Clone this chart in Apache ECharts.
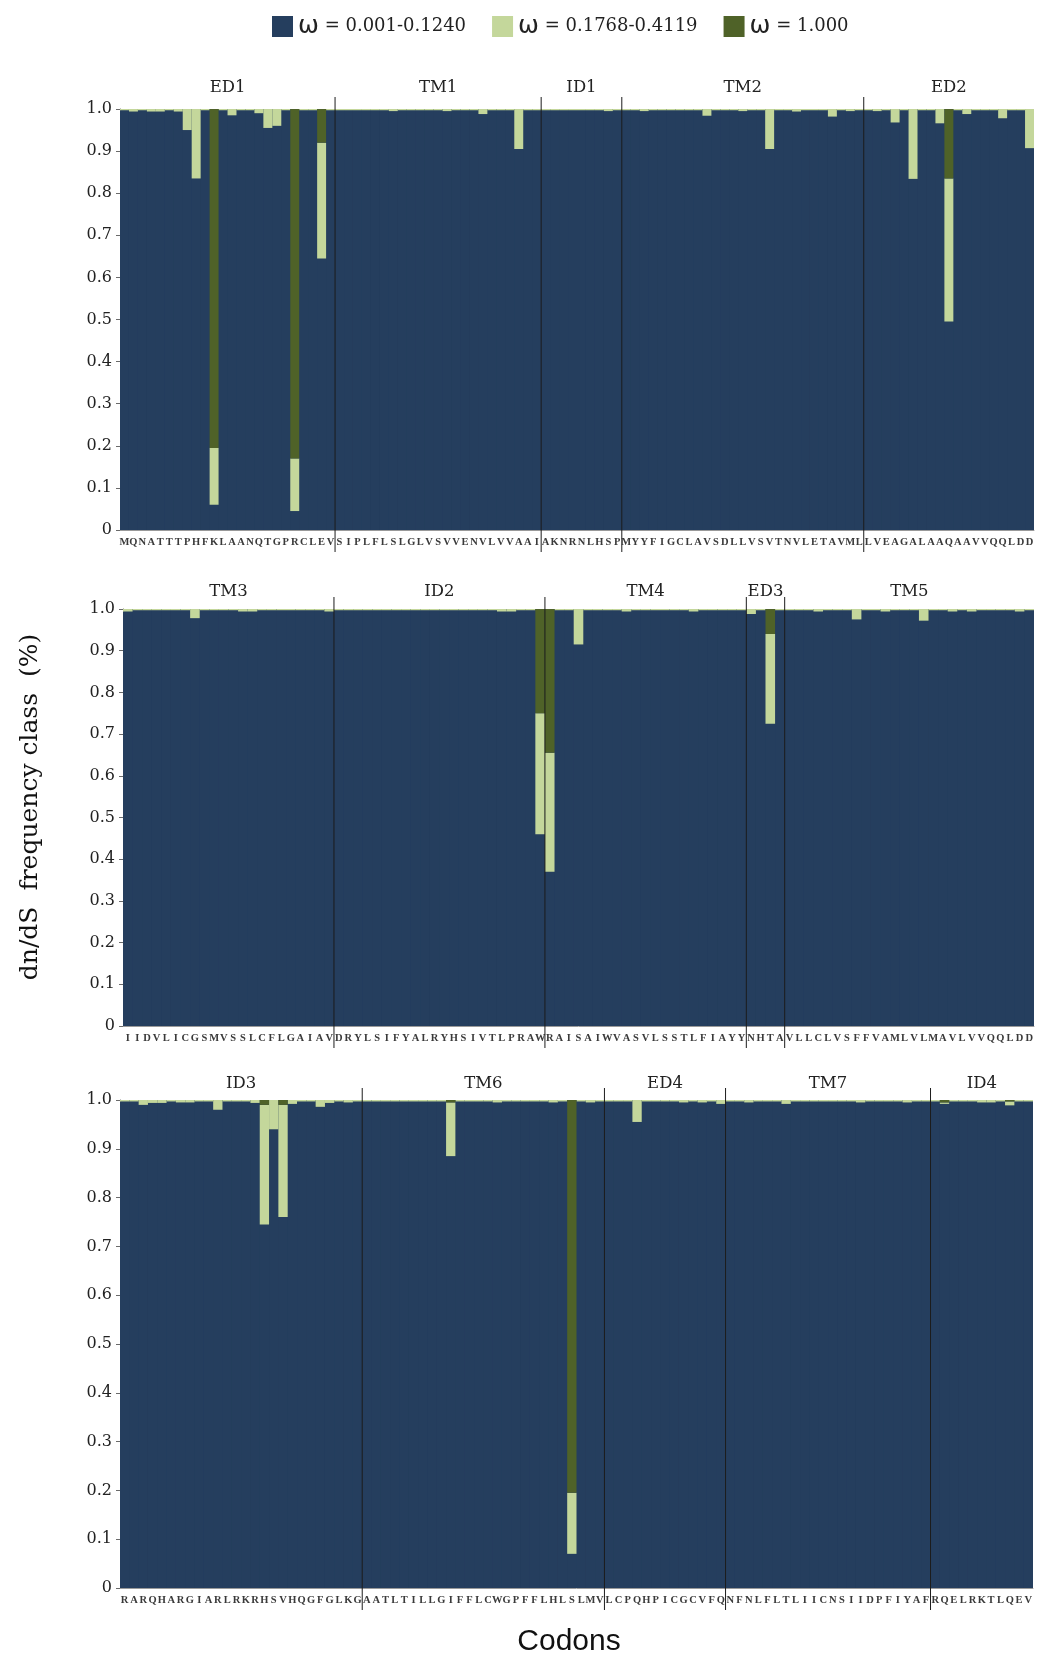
<!DOCTYPE html>
<html>
<head>
<meta charset="utf-8">
<script src="https://cdn.jsdelivr.net/npm/echarts@6/dist/echarts.min.js"></script>
<style>
  html, body { margin: 0; padding: 0; background: #fff; }
  #chart { width: 1039px; height: 1657px; }
</style>
</head>
<body>
<div id="chart"></div>
<script>
// dn/dS classes (stacked bottom -> top)
const classNames = ['ω = 0.001-0.1240', 'ω = 0.1768-0.4119', 'ω = 1.000']
const classColors = ['#253e5e', '#c4d79b', '#4f6228']

// ---- panel 1 ----
const seq1 = 'MQNATTTPHFKLAANQTGPRCLEV' + 'SIPLFLSLGLVSVVENVLVVAAI' + 'AKNRNLHSP' +
  'MYYFIGCLAVSDLLVSVTNVLETAVML' + 'LVEAGALAAQAAVVQQLDD'
const domains1 = ['ED1', 'TM1', 'ID1', 'TM2', 'ED2']
const domainLen1 = [24, 23, 9, 27, 19]
const low1 = [
  .997, .994, .997, .994, .994, .997, .994, .95, .835, .997,
  .06, .997, .985, .997, .997, .99, .955, .96, .997, .045,
  .997, .997, .645, .997, .997, .997, .997, .997, .997, .997,
  .995, .997, .997, .997, .997, .997, .995, .997, .997, .997,
  .988, .997, .997, .997, .905, .997, .997, .997, .997, .997,
  .997, .997, .997, .997, .995, .997, .997, .997, .995, .997,
  .997, .997, .997, .997, .997, .984, .997, .997, .997, .995,
  .997, .997, .905, .997, .997, .994, .997, .997, .997, .982,
  .997, .995, .997, .997, .995, .997, .968, .997, .834, .997,
  .997, .966, .495, .997, .988, .997, .997, .997, .978, .997,
  .997, .907]
const mid1 = [
  .003, .006, .003, .006, .006, .003, .006, .05, .165, .003,
  .135, .003, .015, .003, .003, .01, .045, .04, .003, .125,
  .003, .003, .275, .003, .003, .003, .003, .003, .003, .003,
  .005, .003, .003, .003, .003, .003, .005, .003, .003, .003,
  .012, .003, .003, .003, .095, .003, .003, .003, .003, .003,
  .003, .003, .003, .003, .005, .003, .003, .003, .005, .003,
  .003, .003, .003, .003, .003, .016, .003, .003, .003, .005,
  .003, .003, .095, .003, .003, .006, .003, .003, .003, .018,
  .003, .005, .003, .003, .005, .003, .032, .003, .166, .003,
  .003, .034, .34, .003, .012, .003, .003, .003, .022, .003,
  .003, .093]
const high1 = [
  0, 0, 0, 0, 0, 0, 0, 0, 0, 0,
  .805, 0, 0, 0, 0, 0, 0, 0, 0, .83,
  0, 0, .08, 0, 0, 0, 0, 0, 0, 0,
  0, 0, 0, 0, 0, 0, 0, 0, 0, 0,
  0, 0, 0, 0, 0, 0, 0, 0, 0, 0,
  0, 0, 0, 0, 0, 0, 0, 0, 0, 0,
  0, 0, 0, 0, 0, 0, 0, 0, 0, 0,
  0, 0, 0, 0, 0, 0, 0, 0, 0, 0,
  0, 0, 0, 0, 0, 0, 0, 0, 0, 0,
  0, 0, .165, 0, 0, 0, 0, 0, 0, 0,
  0, 0]

// ---- panel 2 ----
const seq2 = 'IIDVLICGSMVSSLCFLGAIAV' + 'DRYLSIFYALRYHSIVTLPRAW' + 'RAISAIWVASVLSSTLFIAYY' +
  'NHTA' + 'VLLCLVSFFVAMLVLMAVLVVQQLDD'
const domains2 = ['TM3', 'ID2', 'TM4', 'ED3', 'TM5']
const domainLen2 = [22, 22, 21, 4, 26]
const low2 = [
  .994, .997, .997, .997, .997, .997, .997, .978, .997, .997,
  .997, .997, .994, .994, .997, .997, .997, .997, .997, .997,
  .997, .994, .997, .997, .997, .997, .997, .997, .997, .997,
  .997, .997, .997, .997, .997, .997, .997, .997, .997, .994,
  .994, .997, .997, .46, .37, .997, .997, .915, .997, .997,
  .997, .997, .994, .997, .997, .997, .997, .997, .997, .994,
  .997, .997, .997, .997, .997, .988, .997, .725, .997, .997,
  .997, .997, .994, .997, .997, .997, .975, .997, .997, .994,
  .997, .997, .997, .972, .997, .997, .994, .997, .994, .997,
  .997, .997, .997, .994, .997]
const mid2 = [
  .006, .003, .003, .003, .003, .003, .003, .022, .003, .003,
  .003, .003, .006, .006, .003, .003, .003, .003, .003, .003,
  .003, .006, .003, .003, .003, .003, .003, .003, .003, .003,
  .003, .003, .003, .003, .003, .003, .003, .003, .003, .006,
  .006, .003, .003, .29, .285, .003, .003, .085, .003, .003,
  .003, .003, .006, .003, .003, .003, .003, .003, .003, .006,
  .003, .003, .003, .003, .003, .012, .003, .215, .003, .003,
  .003, .003, .006, .003, .003, .003, .025, .003, .003, .006,
  .003, .003, .003, .028, .003, .003, .006, .003, .006, .003,
  .003, .003, .003, .006, .003]
const high2 = [
  0, 0, 0, 0, 0, 0, 0, 0, 0, 0,
  0, 0, 0, 0, 0, 0, 0, 0, 0, 0,
  0, 0, 0, 0, 0, 0, 0, 0, 0, 0,
  0, 0, 0, 0, 0, 0, 0, 0, 0, 0,
  0, 0, 0, .25, .345, 0, 0, 0, 0, 0,
  0, 0, 0, 0, 0, 0, 0, 0, 0, 0,
  0, 0, 0, 0, 0, 0, 0, .06, 0, 0,
  0, 0, 0, 0, 0, 0, 0, 0, 0, 0,
  0, 0, 0, 0, 0, 0, 0, 0, 0, 0,
  0, 0, 0, 0, 0]

// ---- panel 3 ----
const seq3 = 'RARQHARGIARLRKRHSVHQGFGLKG' + 'AATLTILLGIFFLCWGPFFLHLSLMV' + 'LCPQHPICGCVFQ' +
  'NFNLFLTLIICNSIIDPFIYAF' + 'RQELRKTLQEV'
const domains3 = ['ID3', 'TM6', 'ED4', 'TM7', 'ID4']
const domainLen3 = [26, 26, 13, 22, 11]
const low3 = [
  .997, .997, .99, .994, .994, .997, .995, .995, .997, .997,
  .98, .997, .997, .997, .994, .745, .94, .76, .992, .997,
  .997, .986, .994, .997, .995, .997, .997, .997, .997, .997,
  .997, .997, .997, .997, .997, .885, .997, .997, .997, .997,
  .995, .997, .997, .997, .997, .997, .995, .997, .07, .997,
  .995, .997, .997, .997, .997, .955, .997, .997, .997, .997,
  .995, .997, .995, .997, .992, .997, .997, .995, .997, .997,
  .997, .992, .997, .997, .997, .997, .997, .997, .997, .995,
  .997, .997, .997, .997, .995, .997, .997, .997, .992, .997,
  .997, .997, .995, .995, .997, .989, .997, .997]
const mid3 = [
  .003, .003, .01, .006, .006, .003, .005, .005, .003, .003,
  .02, .003, .003, .003, .006, .245, .06, .23, .008, .003,
  .003, .014, .006, .003, .005, .003, .003, .003, .003, .003,
  .003, .003, .003, .003, .003, .11, .003, .003, .003, .003,
  .005, .003, .003, .003, .003, .003, .005, .003, .125, .003,
  .005, .003, .003, .003, .003, .045, .003, .003, .003, .003,
  .005, .003, .005, .003, .008, .003, .003, .005, .003, .003,
  .003, .008, .003, .003, .003, .003, .003, .003, .003, .005,
  .003, .003, .003, .003, .005, .003, .003, .003, .003, .003,
  .003, .003, .005, .005, .003, .008, .003, .003]
const high3 = [
  0, 0, 0, 0, 0, 0, 0, 0, 0, 0,
  0, 0, 0, 0, 0, .01, 0, .01, 0, 0,
  0, 0, 0, 0, 0, 0, 0, 0, 0, 0,
  0, 0, 0, 0, 0, .005, 0, 0, 0, 0,
  0, 0, 0, 0, 0, 0, 0, 0, .805, 0,
  0, 0, 0, 0, 0, 0, 0, 0, 0, 0,
  0, 0, 0, 0, 0, 0, 0, 0, 0, 0,
  0, 0, 0, 0, 0, 0, 0, 0, 0, 0,
  0, 0, 0, 0, 0, 0, 0, 0, .005, 0,
  0, 0, 0, 0, 0, .003, 0, 0]

const panels = [
  {seq: seq1, domains: domains1, lens: domainLen1, low: low1, mid: mid1, high: high1, labelGap: 21},
  {seq: seq2, domains: domains2, lens: domainLen2, low: low2, mid: mid2, high: high2, labelGap: 17},
  {seq: seq3, domains: domains3, lens: domainLen3, low: low3, mid: mid3, high: high3, labelGap: 16}
]

const serif = 'DejaVu Serif'
let grids = [
  {left: 120, right: 5, top: 109, height: 421},
  {left: 123, right: 5, top: 609, height: 417},
  {left: 120, right: 6, top: 1100, height: 488}
]
// blue backdrop hides the hairline seams between adjacent bars
grids.forEach(function (g) {
  g.show = true
  g.backgroundColor = classColors[0]
  g.borderWidth = 0
})
let xAxes = []
let yAxes = []
let series = []

panels.forEach(function (p, i) {
  let n = p.seq.length
  xAxes.push({
    type: 'category',
    gridIndex: i,
    data: p.seq.split(''),
    axisLine: {lineStyle: {color: '#9a9a9a', width: 1}},
    axisTick: {interval: 0, length: 4, lineStyle: {color: '#9a9a9a'}},
    axisLabel: {
      interval: 0,
      margin: 7,
      fontSize: 10.5,
      fontWeight: 'bold',
      fontFamily: 'Liberation Serif',
      color: '#3a3a3a'
    }
  })
  // hidden helper axis: codon position 0..n, used for domain borders
  xAxes.push({type: 'value', gridIndex: i, min: 0, max: n, show: false})
  yAxes.push({
    type: 'value',
    gridIndex: i,
    min: 0,
    max: 1,
    interval: 0.1,
    splitLine: {show: false},
    axisLine: {show: true, lineStyle: {color: '#6a6a6a'}},
    axisTick: {show: true, length: 4, lineStyle: {color: '#6a6a6a'}},
    axisLabel: {
      margin: 8,
      fontSize: 16,
      fontFamily: serif,
      color: '#222',
      formatter: function (v) { return v === 0 ? '0' : v.toFixed(1) }
    }
  })

  let stacks = [p.low, p.mid, p.high]
  stacks.forEach(function (d, k) {
    series.push({
      name: classNames[k],
      type: 'bar',
      xAxisIndex: 2 * i,
      yAxisIndex: i,
      stack: 'panel' + i,
      barWidth: '100%',
      data: d,
      itemStyle: {color: classColors[k]}
    })
  })

  // domain borders
  let cuts = []
  let acc = 0
  p.lens.slice(0, -1).forEach(function (l) {
    acc += l
    cuts.push([acc, 1])
  })
  series.push({
    type: 'custom',
    xAxisIndex: 2 * i + 1,
    yAxisIndex: i,
    silent: true,
    z: 5,
    data: cuts,
    renderItem: function (params, api) {
      let top = api.coord([api.value(0), 1])
      let bot = api.coord([api.value(0), 0])
      return {
        type: 'line',
        shape: {x1: top[0], y1: top[1] - 12, x2: bot[0], y2: bot[1] + 22},
        style: {stroke: '#1c1c1c', lineWidth: 1}
      }
    }
  })

  // domain names centred above each segment
  let mids = []
  acc = 0
  p.lens.forEach(function (l) {
    mids.push([acc + l / 2, 1])
    acc += l
  })
  series.push({
    type: 'custom',
    xAxisIndex: 2 * i + 1,
    yAxisIndex: i,
    silent: true,
    z: 5,
    data: mids,
    renderItem: function (params, api) {
      let pt = api.coord([api.value(0), 1])
      return {
        type: 'text',
        x: pt[0],
        y: pt[1] - p.labelGap,
        style: {
          text: p.domains[params.dataIndex],
          fill: '#222',
          fontSize: 16.5,
          fontFamily: serif,
          align: 'center',
          verticalAlign: 'middle'
        }
      }
    }
  })
})

let myChart = echarts.init(document.getElementById('chart'))
myChart.setOption({
  animation: false,
  backgroundColor: '#fff',
  legend: {
    data: classNames,
    left: 267,
    top: 9,
    icon: 'rect',
    itemWidth: 21,
    itemHeight: 21,
    itemGap: 26,
    formatter: function (name) { return name.replace('ω', '{w|ω}') },
    textStyle: {
      fontFamily: serif,
      fontSize: 18,
      color: '#222',
      rich: {w: {fontFamily: 'DejaVu Sans', fontSize: 25, color: '#222'}}
    }
  },
  grid: grids,
  xAxis: xAxes,
  yAxis: yAxes,
  series: series,
  graphic: [
    {
      type: 'text',
      x: 30,
      y: 807,
      rotation: Math.PI / 2,
      style: {
        text: 'dn/dS  frequency class  (%)',
        fill: '#111',
        fontSize: 25,
        fontFamily: serif,
        align: 'center',
        verticalAlign: 'middle'
      }
    },
    {
      type: 'text',
      x: 569,
      y: 1642,
      style: {
        text: 'Codons',
        fill: '#111',
        fontSize: 30,
        fontFamily: 'Liberation Sans',
        align: 'center',
        verticalAlign: 'middle'
      }
    }
  ]
})
</script>
</body>
</html>
